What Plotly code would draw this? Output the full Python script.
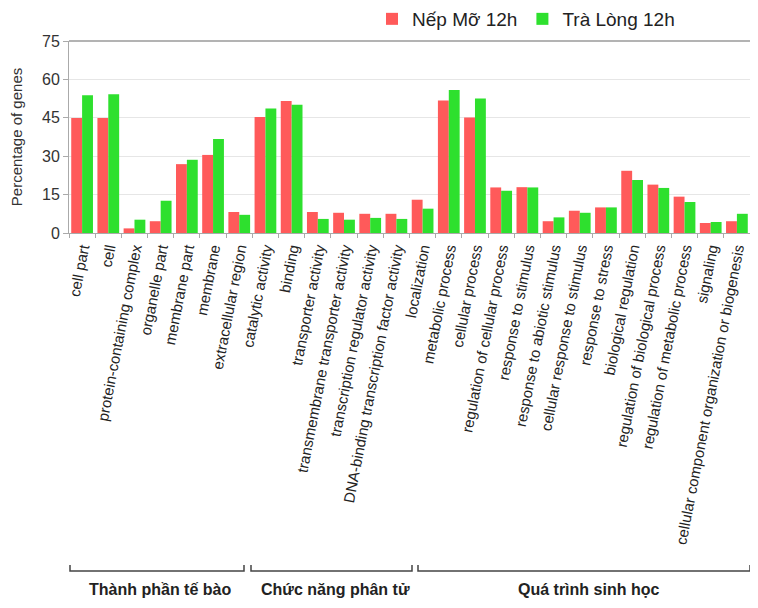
import plotly.graph_objects as go

categories = [
    "cell part", "cell", "protein-containing complex", "organelle part",
    "membrane part", "membrane", "extracellular region",
    "catalytic activity", "binding", "transporter activity",
    "transmembrane transporter activity", "transcription regulator activity",
    "DNA-binding transcription factor activity",
    "localization", "metabolic process", "cellular process",
    "regulation of cellular process", "response to stimulus",
    "response to abiotic stimulus", "cellular response to stimulus",
    "response to stress", "biological regulation",
    "regulation of biological process", "regulation of metabolic process",
    "signaling", "cellular component organization or biogenesis",
]

nep_mo_12h = [44.9, 44.9, 1.8, 4.6, 26.9, 30.5, 8.2,
              45.3, 51.6, 8.2, 7.9, 7.5, 7.5,
              13.0, 51.8, 45.1, 17.8, 17.9, 4.6, 8.7, 10.0, 24.3, 18.9, 14.2, 3.9, 4.6]
tra_long_12h = [53.8, 54.2, 5.2, 12.6, 28.6, 36.7, 7.1,
                48.6, 50.1, 5.5, 5.2, 5.9, 5.5,
                9.5, 55.9, 52.5, 16.5, 17.8, 6.1, 7.9, 10.0, 20.7, 17.6, 12.1, 4.3, 7.5]

series_names = ["Nếp Mỡ 12h", "Trà Lòng 12h"]
group_labels = ["Thành phần tế bào", "Chức năng phân tử", "Quá trình sinh học"]
y_ticks = [0, 15, 30, 45, 60, 75]

RED = "#FF5A5A"
GREEN = "#2EE02E"
FONT = "Liberation Sans, Arial, sans-serif"

fig = go.Figure()
fig.add_trace(go.Bar(x=categories, y=nep_mo_12h, name=series_names[0],
                     marker=dict(color=RED, line=dict(width=0))))
fig.add_trace(go.Bar(x=categories, y=tra_long_12h, name=series_names[1],
                     marker=dict(color=GREEN, line=dict(width=0))))

# page body has an 8px margin: the figure starts at (8, 8) in the window
OFF = 8
W, H = 758 - 2 * OFF, 608 - 2 * OFF
# desired plot box in window pixels
PL, PR, PT, PB = 69, 758 - OFF, 41, 233
L, R, T, B = PL - OFF, 0, PT - OFF, H - (PB - OFF)
pw, ph = PR - PL, PB - PT


def px(xp):
    return (xp - PL) / pw


def py(yp):
    return (PB - yp) / ph


shapes = []
shapes.append(dict(type="line", xref="paper", yref="paper", x0=0, x1=1, y0=1, y1=1,
                   line=dict(color="#9a9a9a", width=1.5)))
brackets = [(70, 244), (251, 412), (418, 750)]
yl, yt = py(571), py(565)
for a, b in brackets:
    x0, x1 = px(a), px(b)
    shapes.append(dict(type="path", xref="paper", yref="paper",
                       path=f"M {x0},{yt} L {x0},{yl} L {x1},{yl} L {x1},{yt}",
                       line=dict(color="#444444", width=1.5)))

annotations = []
centers = [160, 335, 588]
for lab, c in zip(group_labels, centers):
    annotations.append(dict(text=f"<b>{lab}</b>", xref="paper", yref="paper",
                            x=px(c), y=py(589), xanchor="center", yanchor="middle",
                            showarrow=False,
                            font=dict(family=FONT, size=16, color="#222222")))

fig.update_layout(
    width=W, height=H,
    margin=dict(l=L, r=R, t=T, b=B, pad=0, autoexpand=False),
    paper_bgcolor="white", plot_bgcolor="white",
    barmode="group", bargap=0.17, bargroupgap=0,
    font=dict(family=FONT, color="#333333"),
    legend=dict(orientation="h", x=px(680), xanchor="right", y=py(19), yanchor="middle",
                font=dict(size=19, color="#222222"), bgcolor="rgba(0,0,0,0)",
                itemclick=False),
    shapes=shapes,
    annotations=annotations,
)

fig.update_xaxes(
    type="category", tickangle=-79, tickfont=dict(size=15, color="#222222"),
    showline=True, linecolor="#aaaaaa", linewidth=1,
    ticks="outside", tickson="boundaries", ticklen=4, tickcolor="#aaaaaa",
    showgrid=False, automargin=False,
)
fig.update_yaxes(
    range=[0, 75], tickvals=y_ticks, tickfont=dict(size=16, color="#333333"),
    showline=True, linecolor="#aaaaaa", linewidth=1,
    ticks="outside", ticklen=5, tickcolor="#aaaaaa",
    showgrid=True, gridcolor="#e6e6e6", gridwidth=1, zeroline=False,
    automargin=False,
    title=dict(text="Percentage of genes", font=dict(size=15, color="#333333"), standoff=16),
)

fig.write_html("out.html")
